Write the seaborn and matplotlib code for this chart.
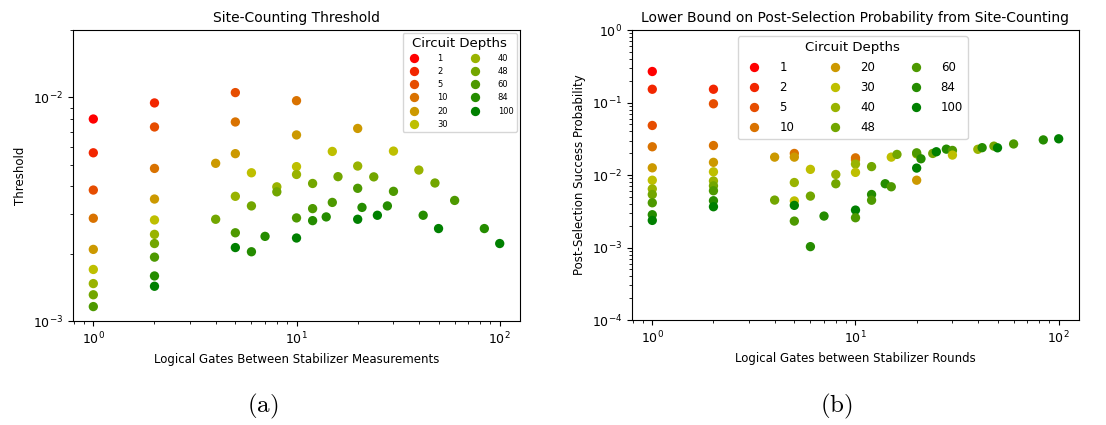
import numpy as np
import pandas as pd
import seaborn as sns
import matplotlib.pyplot as plt
from matplotlib.colors import LinearSegmentedColormap, to_hex

plt.rcParams['mathtext.fontset'] = 'cm'

depths = [1, 2, 5, 10, 20, 30, 40, 48, 60, 84, 100]

# (a) site-counting threshold
gates_a = [1, 1, 1, 1, 1, 1, 1, 1, 1,
           2, 2, 2, 2, 2, 2, 2, 2, 2, 2,
           4, 4,
           5, 5, 5, 5, 5, 5,
           6, 6, 6,
           7,
           8, 8,
           10, 10, 10, 10, 10, 10,
           12, 12, 12,
           14,
           15, 15,
           16,
           20, 20, 20, 20,
           21, 24, 25, 28,
           30, 30,
           40, 42, 48, 50, 60, 84, 100]
depth_a = [1, 2, 5, 10, 20, 30, 40, 48, 60,
           2, 5, 10, 20, 30, 40, 48, 60, 84, 100,
           20, 48,
           5, 10, 20, 40, 60, 100,
           30, 48, 84,
           84,
           40, 48,
           10, 20, 30, 40, 60, 100,
           48, 60, 84,
           84,
           30, 60,
           48,
           20, 40, 60, 100,
           84, 48, 100, 84,
           30, 60,
           40, 84, 48, 100, 60, 84, 100]
thresh_a = [8.0e-3, 5.65e-3, 3.85e-3, 2.88e-3, 2.09e-3, 1.70e-3, 1.47e-3, 1.31e-3, 1.16e-3,
            9.44e-3, 7.37e-3, 4.81e-3, 3.51e-3, 2.83e-3, 2.44e-3, 2.22e-3, 1.93e-3, 1.59e-3, 1.43e-3,
            5.07e-3, 2.85e-3,
            1.05e-2, 7.76e-3, 5.60e-3, 3.61e-3, 2.48e-3, 2.13e-3,
            4.60e-3, 3.27e-3, 2.04e-3,
            2.39e-3,
            3.98e-3, 3.78e-3,
            9.66e-3, 6.79e-3, 4.90e-3, 4.52e-3, 2.89e-3, 2.35e-3,
            4.12e-3, 3.18e-3, 2.81e-3,
            2.92e-3,
            5.73e-3, 3.39e-3,
            4.42e-3,
            7.26e-3, 4.93e-3, 3.92e-3, 2.85e-3,
            3.22e-3, 4.41e-3, 2.97e-3, 3.27e-3,
            5.75e-3, 3.80e-3,
            4.73e-3, 2.97e-3, 4.14e-3, 2.59e-3, 3.46e-3, 2.59e-3, 2.22e-3]

# (b) lower bound on post-selection probability
gates_b = [1, 1, 1, 1, 1, 1, 1, 1, 1, 1, 1,
           2, 2, 2, 2, 2, 2, 2, 2, 2, 2,
           4, 4,
           5, 5, 5, 5, 5, 5,
           6, 6, 6,
           7,
           8, 8,
           10, 10, 10, 10, 10, 10,
           12, 12, 12,
           14,
           15, 15,
           16,
           20, 20, 20, 20,
           21, 24, 25, 28,
           30, 30,
           40, 42, 48, 50, 60, 84, 100]
depth_b = [1, 2, 5, 10, 20, 30, 40, 48, 60, 84, 100,
           2, 5, 10, 20, 30, 40, 48, 60, 84, 100,
           20, 48,
           10, 20, 40, 30, 100, 60,
           30, 48, 84,
           84,
           40, 48,
           20, 10, 40, 30, 100, 60,
           48, 84, 60,
           84,
           30, 60,
           48,
           40, 60, 100, 20,
           84, 48, 100, 84,
           60, 30,
           40, 84, 48, 100, 60, 84, 100]
prob_b = [0.269, 0.153, 0.0484, 0.0246, 0.0126, 8.5e-3, 6.45e-3, 5.4e-3, 4.15e-3, 2.84e-3, 2.37e-3,
          0.153, 0.0964, 0.0256, 0.0150, 0.0111, 8.3e-3, 7.1e-3, 6.08e-3, 4.43e-3, 3.66e-3,
          0.0177, 4.52e-3,
          0.0199, 0.0177, 7.9e-3, 4.4e-3, 3.82e-3, 2.32e-3,
          0.0120, 5.13e-3, 1.03e-3,
          2.72e-3,
          0.0102, 7.6e-3,
          0.0162, 0.0173, 0.0142, 0.0109, 3.29e-3, 2.58e-3,
          0.0131, 5.4e-3, 4.5e-3,
          7.6e-3,
          0.0177, 6.9e-3,
          0.0193,
          0.0196, 0.0203, 0.0125, 8.5e-3,
          0.0168, 0.0199, 0.0210, 0.0228,
          0.0219, 0.0189,
          0.0227, 0.0239, 0.0251, 0.0238, 0.0269, 0.0306, 0.0317]

cmap = LinearSegmentedColormap.from_list('ryg', ['red', 'y', 'green'])
labels = [str(d) for d in depths]
palette = {lab: to_hex(cmap(i / (len(depths) - 1))) for i, lab in enumerate(labels)}

df_a = pd.DataFrame({'gates': gates_a, 'depth': [str(d) for d in depth_a], 'value': thresh_a})
df_b = pd.DataFrame({'gates': gates_b, 'depth': [str(d) for d in depth_b], 'value': prob_b})

fig = plt.figure(figsize=(11.06, 4.25), dpi=100)
ax1 = fig.add_axes([0.066, 0.2447, 0.4042, 0.6847])
ax2 = fig.add_axes([0.5714, 0.247, 0.4042, 0.682])

sns.scatterplot(df_a, x='gates', y='value', hue='depth', hue_order=labels, palette=palette,
                s=45, linewidth=0, ax=ax1)
ax1.set_xscale('log')
ax1.set_yscale('log')
ax1.set_ylim(1e-3, 2e-2)
ax1.set_title('Site-Counting Threshold', fontsize=10)
ax1.set_xlabel('Logical Gates Between Stabilizer Measurements', fontsize=8.5)
ax1.set_ylabel('Threshold', fontsize=8.5)
ax1.tick_params(labelsize=9)
sns.move_legend(ax1, 'upper right', ncol=2, title='Circuit Depths', fontsize=6,
                title_fontsize=9.5, handletextpad=1.75, columnspacing=2.2, borderaxespad=0.4)

sns.scatterplot(df_b, x='gates', y='value', hue='depth', hue_order=labels, palette=palette,
                s=45, linewidth=0, ax=ax2)
ax2.set_xscale('log')
ax2.set_yscale('log')
ax2.set_ylim(1e-4, 1)
ax2.set_title('Lower Bound on Post-Selection Probability from Site-Counting', fontsize=10)
ax2.set_xlabel('Logical Gates between Stabilizer Rounds', fontsize=8.5)
ax2.set_ylabel('Post-Selection Success Probability', fontsize=8.5)
ax2.tick_params(labelsize=9)
sns.move_legend(ax2, 'upper left', bbox_to_anchor=(0.237, 0.979), borderaxespad=0, ncol=3,
                title='Circuit Depths', fontsize=8.5, title_fontsize=9.5, handletextpad=1.12,
                columnspacing=2.45, labelspacing=0.6)

fig.text(263 / 1106, 1 - 406 / 425, r'$\mathrm{(a)}$', fontsize=18, ha='center', va='center')
fig.text(836 / 1106, 1 - 406 / 425, r'$\mathrm{(b)}$', fontsize=18, ha='center', va='center')

fig.savefig('out.png', dpi=100)
